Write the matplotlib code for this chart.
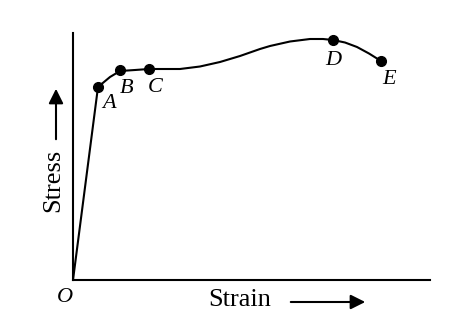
import numpy as np
import matplotlib.pyplot as plt

# points (strain, stress in arbitrary units)
strain = [0.0, 2.5, 3.7, 4.7, 6.2, 7.6, 8.7, 10.7, 12.7, 14.7, 16.7, 17.7, 18.7, 19.7,
          21.7, 23.7, 25.0, 26.0, 27.2, 28.4, 29.6, 30.8]
stress = [0.0, 19.3, 20.3, 20.9, 21.0, 21.1, 21.1, 21.1, 21.35, 21.8, 22.4, 22.75, 23.1, 23.4,
          23.85, 24.1, 24.1, 24.0, 23.75, 23.3, 22.65, 21.9]

# labelled points
pt_names = ['A', 'B', 'C', 'D', 'E']
pt_strain = [2.5, 4.7, 7.6, 26.0, 30.8]
pt_stress = [19.3, 21.0, 21.1, 24.0, 21.9]
# label offsets in points (dx, dy)
pt_offsets = [(3, -12), (0, -13), (-1, -13), (0, -15), (1, -13)]

plt.rcParams['font.family'] = ['Liberation Serif', 'DejaVu Serif']

fig = plt.figure(figsize=(4.74, 3.22), dpi=100)
ax = fig.add_axes([73 / 474, 42 / 322, 357 / 474, 247 / 322])

ax.plot(strain, stress, color='black', lw=1.5, solid_capstyle='round', solid_joinstyle='round')
ax.plot(pt_strain, pt_stress, 'o', color='black', ms=7)
for name, sx, sy, off in zip(pt_names, pt_strain, pt_stress, pt_offsets):
    ax.annotate(name, (sx, sy), xytext=off, textcoords='offset points',
                fontsize=16, fontstyle='italic', ha='left' if name != 'D' else 'center', va='center')

ax.set_xlim(0, 35.7)
ax.set_ylim(0, 24.7)
for side in ['top', 'right']:
    ax.spines[side].set_visible(False)
ax.spines['left'].set_linewidth(1.5)
ax.spines['bottom'].set_linewidth(1.5)
ax.set_xticks([])
ax.set_yticks([])

fig.text(65 / 474, 1 - 298 / 322, 'O', fontsize=16, fontstyle='italic', ha='center', va='center')
fig.text(240 / 474, 1 - 300 / 322, 'Strain', fontsize=19, ha='center', va='center')
fig.text(53 / 474, 1 - 180 / 322, 'Stress', fontsize=19, rotation=90, ha='center', va='center')

arrow = dict(arrowstyle='-|>', color='black', lw=1.5, mutation_scale=22)
fig.add_artist(plt.matplotlib.patches.FancyArrowPatch(
    (288 / 474, 1 - 302 / 322), (368 / 474, 1 - 302 / 322),
    transform=fig.transFigure, **arrow))
fig.add_artist(plt.matplotlib.patches.FancyArrowPatch(
    (56 / 474, 1 - 142 / 322), (56 / 474, 1 - 86 / 322),
    transform=fig.transFigure, **arrow))

fig.savefig('out.png', dpi=100, facecolor='white')
